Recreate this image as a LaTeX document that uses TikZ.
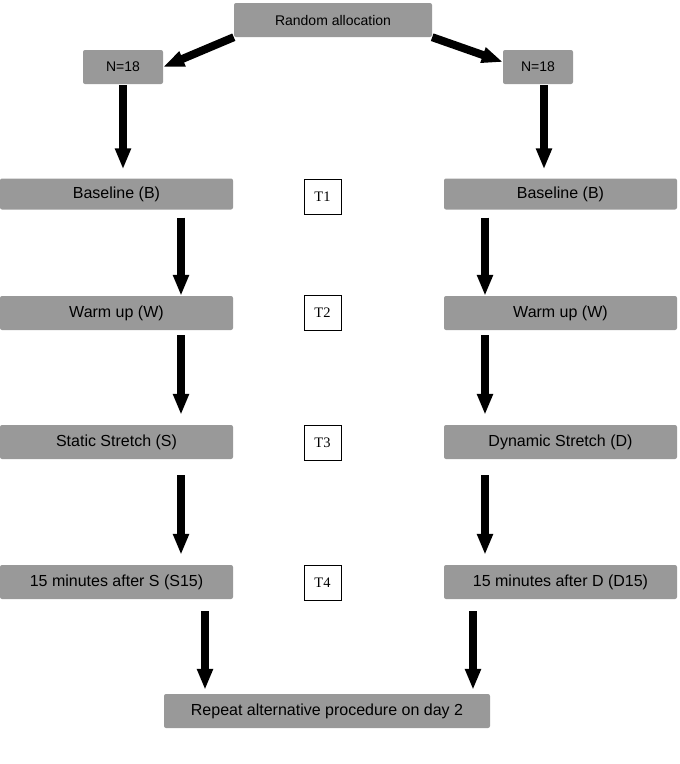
\documentclass[tikz,border=0pt]{standalone}
\usepackage{fontspec}
\setmainfont{Liberation Sans}
\newfontfamily\timesfont{Liberation Serif}
\usetikzlibrary{arrows.meta}
\definecolor{boxgray}{HTML}{999999}
\begin{document}
\begin{tikzpicture}[x=1pt,y=-1pt,
  box/.style={fill=boxgray,rounded corners=2pt,minimum height=34pt,inner sep=0pt,font=\fontsize{16}{18}\selectfont},
  topbox/.style={box,font=\fontsize{14}{16}\selectfont},
  tbox/.style={draw,line width=0.8pt,minimum width=37pt,minimum height=35pt,inner sep=0pt,font=\timesfont\fontsize{14.5}{16}\selectfont},
  arr/.style={line width=8pt,-{Triangle[length=21pt,width=15pt]}}]
\useasboundingbox (0,0) rectangle (680,764);
% top
\node[topbox,minimum width=198pt] (rand) at (333,20) {Random allocation};
\node[topbox,minimum width=80pt] (nl) at (123,67) {N=18};
\node[topbox,minimum width=70pt] (nr) at (538,67) {N=18};
% left column
\node[box,minimum width=233pt,minimum height=31pt] (bl) at (116.5,194) {Baseline (B)};
\node[box,minimum width=233pt] (wl) at (116.5,313) {Warm up (W)};
\node[box,minimum width=233pt] (sl) at (116.5,442) {Static Stretch (S)};
\node[box,minimum width=233pt] (fl) at (116.5,582) {15 minutes after S (S15)};
% right column
\node[box,minimum width=233pt,minimum height=31pt] (br) at (560.5,194) {Baseline (B)};
\node[box,minimum width=233pt] (wr) at (560.5,313) {Warm up (W)};
\node[box,minimum width=233pt] (dr) at (560.5,442) {Dynamic Stretch (D)};
\node[box,minimum width=233pt] (fr) at (560.5,582) {15 minutes after D (D15)};
% times
\node[tbox] (t1) at (322.5,196.5) {T1};
\node[tbox] (t2) at (322.5,313) {T2};
\node[tbox] (t3) at (322.5,442.5) {T3};
\node[tbox] (t4) at (322.5,582.5) {T4};
\node[box,minimum width=326pt] (rep) at (327,711) {Repeat alternative procedure on day 2};
%
\coordinate (al) at (181,0);
\coordinate (ar) at (485,0);
\coordinate (cl) at (205,0);
\coordinate (cr) at (473,0);
\draw[arr] (rand.south west) -- (nl.east);
\draw[arr] (rand.south east) -- ([yshift=5pt]nr.west);
\draw[arr,shorten <=1pt,shorten >=9pt] (nl.south) -- (nl.south |- bl.north);
\draw[arr,shorten <=1pt,shorten >=9pt] ([xshift=6pt]nr.south) -- ([xshift=6pt]nr.south |- br.north);
\draw[arr,shorten <=8pt] (bl.south -| al) -- (wl.north -| al);
\draw[arr,shorten <=8pt] (br.south -| ar) -- (wr.north -| ar);
\draw[arr,shorten <=5pt,shorten >=10pt] (wl.south -| al) -- (sl.north -| al);
\draw[arr,shorten <=5pt,shorten >=10pt] (wr.south -| ar) -- (dr.north -| ar);
\draw[arr,shorten <=16pt,shorten >=10pt] (sl.south -| al) -- (fl.north -| al);
\draw[arr,shorten <=16pt,shorten >=10pt] (dr.south -| ar) -- (fr.north -| ar);
\draw[arr,shorten <=12pt,shorten >=4pt] (fl.south -| cl) -- (rep.north -| cl);
\draw[arr,shorten <=12pt,shorten >=4pt] (fr.south -| cr) -- (rep.north -| cr);
\end{tikzpicture}
\end{document}
